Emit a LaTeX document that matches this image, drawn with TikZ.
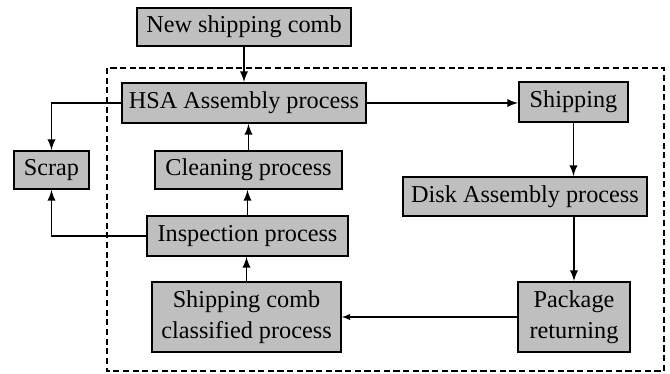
\documentclass[tikz,border=0pt]{standalone}
\usepackage{fontspec}
\setmainfont{Liberation Serif}
\usetikzlibrary{arrows}
\newcommand{\connectpointer}[2]{%
  \draw[->] (#1) -- (#2)}
\newcommand{\connectup}[2]{%
  \draw[->] (#1.north) -- (#1.north |- #2.south)}
\newcommand{\connectscrap}[2]{%
  \draw[->] (#1.west) -| (#2)}

\begin{document}
\begin{tikzpicture}[x=0.02cm, y=-0.02cm,
    box/.style={draw, fill=black!25, line width=1.1pt, inner sep=0pt,
    font=\fontsize{13.8}{17.5}\selectfont, align=center}, >=latex,
    line width=1.1pt]
  \useasboundingbox (0,0) rectangle (670,374);
  \draw[dashed, line width=0.9pt, dash pattern=on 3.5pt off 2pt]
    (107,68) rectangle (664,371);

  \node[box, minimum width=4.28cm, minimum height=0.76cm] (nsc) at (244,27) {New shipping comb};
  \node[box, minimum width=4.88cm, minimum height=0.8cm] (hsa) at (244,103) {HSA Assembly process};
  \node[box, minimum width=2.18cm, minimum height=0.8cm] (ship) at (573.5,102) {Shipping};
  \node[box, minimum width=1.5cm, minimum height=0.76cm] (scrap) at (51.5,170) {Scrap};
  \node[box, minimum width=3.74cm, minimum height=0.76cm] (clean) at (248.5,170) {Cleaning process};
  \node[box, minimum width=4.88cm, minimum height=0.78cm] (disk) at (525,196.5) {Disk Assembly process};
  \node[box, minimum width=4.02cm, minimum height=0.8cm] (insp) at (247.5,236) {Inspection process};
  \node[box, minimum width=3.78cm, minimum height=1.4cm] (classified) at (246.5,317) {Shipping comb\\classified process};
  \node[box, minimum width=2.24cm, minimum height=1.4cm] (pkg) at (574,317) {Package\\returning};

  \connectpointer{nsc.south}{nsc.south |- hsa.north};
  \connectpointer{hsa.east}{hsa.east -| ship.west};
  \connectpointer{ship.south}{ship.south |- disk.north};
  \connectpointer{pkg.north |- disk.south}{pkg.north};
  \draw[->, line width=0.6pt] (pkg.west) -- (classified.east);
  \connectup{classified}{insp};
  \connectup{insp}{clean};
  \connectup{clean}{hsa};
  \connectscrap{hsa}{scrap.north};
  \connectscrap{insp}{scrap.south};
\end{tikzpicture}
\end{document}
